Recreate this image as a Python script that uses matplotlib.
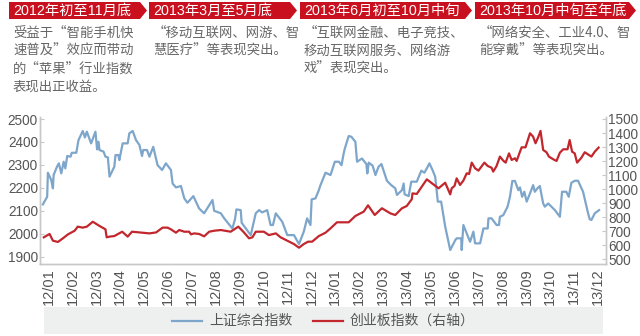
import matplotlib
matplotlib.use("Agg")
import matplotlib.pyplot as plt
from matplotlib.patches import Polygon, Rectangle
from matplotlib.lines import Line2D
from matplotlib.transforms import Affine2D

plt.rcParams['font.family'] = ['Liberation Sans', 'Noto Sans CJK SC', 'DejaVu Sans']

# x position in months since Jan 2012 (0 = 12/01 ... 23 = 13/12)
sh_t = [-0.24, -0.06, -0.03, 0.11, 0.18, 0.21, 0.35, 0.43, 0.53, 0.63, 0.70, 0.78, 0.92, 0.97,
        1.16, 1.25, 1.43, 1.52, 1.60, 1.78, 1.96, 2.03, 2.09, 2.13, 2.30, 2.38, 2.48, 2.55,
        2.75, 2.80, 2.92, 2.96, 3.10, 3.17, 3.31, 3.38, 3.52, 3.66, 3.80, 3.91, 3.96, 4.12,
        4.22, 4.38, 4.56, 4.75, 4.91, 5.12, 5.19, 5.33, 5.54, 5.68, 5.81, 6.06, 6.30, 6.51,
        6.86, 6.93, 7.21, 7.35, 7.69, 7.80, 7.86, 8.04, 8.08, 8.46, 8.67, 8.81, 8.94, 9.15,
        9.29, 9.39, 9.51, 9.78, 9.99, 10.27, 10.48, 10.68, 10.82, 10.96, 11.01, 11.17, 11.31,
        11.38, 11.59, 11.80, 11.98, 12.15, 12.26, 12.35, 12.40, 12.56, 12.67, 12.84, 12.91,
        13.12, 13.19, 13.30, 13.34, 13.40, 13.56, 13.68, 13.81, 13.93, 14.02, 14.16, 14.34,
        14.51, 14.58, 14.65, 14.79, 14.86, 14.90, 15.07, 15.18, 15.41, 15.60, 15.73, 15.83,
        15.94, 16.08, 16.18, 16.29, 16.43, 16.60, 16.81, 17.02, 17.08, 17.27, 17.29, 17.36,
        17.50, 17.64, 17.78, 17.85, 18.06, 18.20, 18.38, 18.41, 18.54, 18.75, 18.85, 18.89,
        19.03, 19.21, 19.31, 19.41, 19.52, 19.66, 19.73, 19.82, 19.91, 20.01, 20.15, 20.28,
        20.35, 20.46, 20.56, 20.70, 20.77, 20.91, 21.19, 21.40, 21.49, 21.67, 21.77, 21.88,
        22.02, 22.16, 22.37, 22.58, 22.65, 22.72, 22.86, 23.04]
sh_index = [2128, 2161, 2266, 2234, 2198, 2256, 2292, 2307, 2263, 2314, 2285, 2339, 2336, 2353,
            2353, 2408, 2448, 2420, 2445, 2394, 2445, 2368, 2401, 2365, 2358, 2336, 2333, 2249,
            2292, 2343, 2343, 2321, 2394, 2394, 2394, 2438, 2448, 2408, 2387, 2339, 2365, 2365,
            2336, 2379, 2299, 2278, 2307, 2278, 2219, 2202, 2208, 2154, 2135, 2164, 2110, 2089,
            2147, 2100, 2089, 2067, 2023, 2062, 2106, 2103, 2048, 1994, 2089, 2103, 2093, 2103,
            2038, 2038, 2089, 2052, 1994, 1994, 1955, 2009, 2067, 2038, 2150, 2154, 2190,
            2212, 2266, 2256, 2314, 2314, 2299, 2350, 2372, 2426, 2423, 2401, 2314,
            2328, 2318, 2304, 2263, 2310, 2297, 2256, 2292, 2304, 2275, 2231, 2212,
            2198, 2169, 2176, 2190, 2219, 2172, 2164, 2227, 2227, 2275, 2266, 2285,
            2307, 2275, 2249, 2140, 2140, 2031, 1929, 1972, 1980, 1980, 1929, 2038,
            2001, 1965, 2009, 1958, 1958, 2023, 2023, 2067, 2067, 2038, 2038, 2074,
            2081, 2118, 2161, 2230, 2230, 2190, 2202, 2161, 2183, 2140, 2176, 2212,
            2183, 2198, 2208, 2132, 2118, 2132, 2103, 2074, 2183, 2183, 2161, 2222,
            2231, 2231, 2183, 2089, 2063, 2060, 2089, 2103]

cyb_t = [-0.20, 0.04, 0.18, 0.39, 0.60, 0.81, 1.09, 1.22, 1.43, 1.60, 1.85, 2.13, 2.38, 2.43,
         2.55, 2.75, 3.08, 3.31, 3.49, 3.80, 4.22, 4.50, 4.77, 4.98, 5.12, 5.33, 5.47, 5.68,
         5.88, 5.96, 6.09, 6.30, 6.51, 6.72, 6.93, 7.21, 7.62, 7.94, 8.15, 8.39, 8.53, 8.67,
         9.01, 9.22, 9.51, 9.71, 9.99, 10.27, 10.48, 10.68, 10.86, 11.03, 11.31, 11.59, 11.80,
         12.07, 12.56, 12.84, 13.19, 13.37, 13.65, 13.95, 14.30, 14.51, 14.79, 14.99, 15.20,
         15.23, 15.41, 15.83, 16.32, 16.60, 16.81, 16.87, 16.99, 17.08, 17.22, 17.36, 17.50,
         17.60, 17.71, 17.85, 17.99, 18.24, 18.38, 18.54, 18.61, 18.75, 18.89, 19.03, 19.13,
         19.27, 19.38, 19.52, 19.59, 19.73, 19.80, 19.96, 20.15, 20.28, 20.38, 20.49, 20.59,
         20.70, 20.84, 20.94, 21.12, 21.26, 21.40, 21.54, 21.72, 21.81, 21.91, 22.02, 22.12,
         22.30, 22.44, 22.61, 22.72, 22.86, 23.02]
cyb_index = [657, 681, 633, 624, 650, 678, 704, 733, 726, 733, 768, 738, 714, 657,
             662, 666, 697, 662, 697, 692, 685, 692, 726, 726, 714, 690, 709, 697,
             697, 678, 685, 681, 664, 697, 704, 709, 697, 733, 697, 650, 657, 697,
             697, 673, 685, 657, 633, 609, 583, 609, 626, 626, 666, 690, 721,
             764, 764, 809, 840, 885, 816, 864, 828, 816, 864, 880, 928,
             970, 966, 1070, 1006, 1046, 963, 1006, 1023, 1077, 1030, 1061, 1113,
             1108, 1189, 1149, 1132, 1189, 1165, 1153, 1125, 1165, 1232, 1203, 1189,
             1255, 1208, 1220, 1201, 1267, 1298, 1298, 1398, 1374, 1327, 1369, 1415,
             1279, 1263, 1232, 1213, 1201, 1260, 1284, 1284, 1350, 1267, 1255, 1189,
             1224, 1263, 1244, 1232, 1267, 1296]

month_labels = ['12/01', '12/02', '12/03', '12/04', '12/05', '12/06', '12/07', '12/08',
                '12/09', '12/10', '12/11', '12/12', '13/01', '13/02', '13/03', '13/04',
                '13/05', '13/06', '13/07', '13/08', '13/09', '13/10', '13/11', '13/12']
left_ticks = [1900, 2000, 2100, 2200, 2300, 2400, 2500]
right_ticks = [500, 600, 700, 800, 900, 1000, 1100, 1200, 1300, 1400, 1500]

series_names = ['上证综合指数', '创业板指数（右轴）']

period_titles = ['2012年初至11月底', '2013年3月至5月底', '2013年6月初至10月中旬', '2013年10月中旬至年底']
period_notes = [
    ['受益于“智能手机快', '速普及”效应而带动', '的“苹果”行业指数', '表现出正收益。'],
    ['“移动互联网、网游、智', '慧医疗”等表现突出。'],
    ['“互联网金融、电子竞技、', '移动互联网服务、网络游', '戏”表现突出。'],
    ['“网络安全、工业4.0、智', '能穿戴”等表现突出。'],
]

BLUE = '#7ea6cb'
RED = '#c1272d'
BANNER = '#c8101e'
GREY_TXT = '#666666'
AXIS_GREY = '#c8c8c8'
CJK_FIRST = ['Noto Sans CJK SC', 'Liberation Sans', 'DejaVu Sans']

fig = plt.figure(figsize=(6.4, 3.36), dpi=100)
# pixel coordinates measured from the top-left corner
px = Affine2D().scale(1 / 640, -1 / 336).translate(0, 1) + fig.transFigure

ax = fig.add_axes([40 / 640, 1 - 264 / 336, 566 / 640, 147 / 336])
ax2 = ax.twinx()

ax.plot(sh_t, sh_index, color=BLUE, lw=1.6, solid_joinstyle='round')
ax2.plot(cyb_t, cyb_index, color=RED, lw=1.6, solid_joinstyle='round')

ax.set_xlim(-0.36, 23.33)
ax.set_ylim(1868, 2509)
ax2.set_ylim(467, 1514)
ax.set_yticks(left_ticks)
ax2.set_yticks(right_ticks)
ax.set_xticks(range(len(month_labels)))
ax.set_xticklabels(month_labels, rotation=90)

for a in (ax, ax2):
    a.set_facecolor('none')
    a.spines['top'].set_visible(False)
    for s in ('left', 'right', 'bottom'):
        a.spines[s].set_color(AXIS_GREY)
        a.spines[s].set_linewidth(1.0)
    a.tick_params(axis='y', direction='in', length=3, color=AXIS_GREY,
                  labelsize=9.8, labelcolor='#555555', pad=1.5)
ax.tick_params(axis='x', length=0, labelsize=10.5, labelcolor='#555555', pad=3)

# period banners with arrow tips and notes beneath
banners = [(9, 147), (149, 297), (300, 472), (475, 636)]
for (x0, x1), title, notes in zip(banners, period_titles, period_notes):
    tip = 7
    shape = Polygon([(x0, 2), (x1 - tip, 2), (x1, 10.5), (x1 - tip, 19), (x0, 19)],
                    closed=True, facecolor=BANNER, edgecolor='none', transform=px)
    fig.add_artist(shape)
    fig.text(x0 + 4, 11, title, transform=px, color='white', fontsize=10.3,
             va='center', ha='left')
    for i, line in enumerate(notes):
        fig.text(x0 + 4, 32.5 + 18 * i, line, transform=px, color=GREY_TXT,
                 fontsize=9.6, va='center', ha='left', family=CJK_FIRST)

# legend strip
fig.add_artist(Rectangle((44, 307), 559, 27, transform=px, facecolor='#eef0f0',
                         edgecolor='none'))
legend_items = [(172, 209, BLUE, series_names[0]), (313, 350, RED, series_names[1])]
for lx, tx, col, name in legend_items:
    fig.add_artist(Line2D([lx, lx + 30], [321, 321], transform=px, color=col, lw=1.6))
    fig.text(tx, 321, name, transform=px, color='#555555', fontsize=10,
             va='center', ha='left', family=CJK_FIRST)

fig.savefig('out.png', dpi=100)
